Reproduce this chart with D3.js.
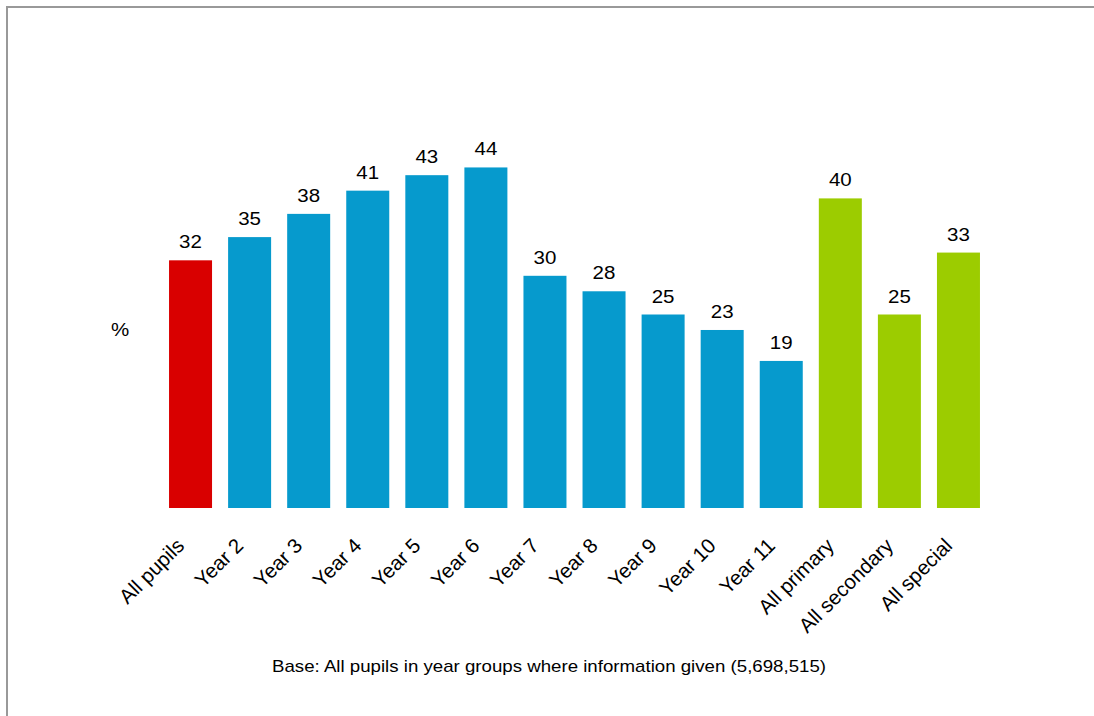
<!DOCTYPE html>
<html>
<head>
<meta charset="utf-8">
<script src="https://d3js.org/d3.v7.min.js"></script>
<style>
  html, body { margin: 0; padding: 0; background: #fff; }
  svg { display: block; }
  text { font-family: "Liberation Sans", Arial, sans-serif; fill: #000; }
</style>
</head>
<body>
<script>
const categories = ["All pupils", "Year 2", "Year 3", "Year 4", "Year 5", "Year 6", "Year 7", "Year 8", "Year 9", "Year 10", "Year 11", "All primary", "All secondary", "All special"];
const values = [32, 35, 38, 41, 43, 44, 30, 28, 25, 23, 19, 40, 25, 33];
const groups = ["total", "year", "year", "year", "year", "year", "year", "year", "year", "year", "year", "phase", "phase", "phase"];
const groupColors = { total: "#D90000", year: "#069ACD", phase: "#9CCC00" };
const yAxisLabel = "%";
const footnote = "Base: All pupils in year groups where information given (5,698,515)";

const W = 1094, H = 716;
const svg = d3.select("body").append("svg").attr("width", W).attr("height", H);

// frame
svg.append("rect").attr("x", 7).attr("y", 7).attr("width", W + 20).attr("height", H + 20)
  .attr("fill", "none").attr("stroke", "#999").attr("stroke-width", 2);

const x = d3.scaleBand().domain(categories).range([161, 988]).paddingInner(0.272).paddingOuter(0.136);
const y = d3.scaleLinear().domain([0, 50]).range([508, 508 - 387]);

const data = categories.map((c, i) => ({ c, v: values[i], g: groups[i] }));

svg.selectAll("rect.bar").data(data).join("rect").attr("class", "bar")
  .attr("x", d => x(d.c)).attr("width", x.bandwidth())
  .attr("y", d => y(d.v)).attr("height", d => y(0) - y(d.v))
  .attr("fill", d => groupColors[d.g]);

svg.selectAll("text.val").data(data).join("text").attr("class", "val")
  .attr("transform", d => `translate(${x(d.c) + x.bandwidth() / 2},${y(d.v) - 12}) scale(1.08,1)`)
  .attr("text-anchor", "middle").style("font-size", "19px").text(d => d.v);

// category axis labels, rotated
const axisG = svg.append("g");
data.forEach(d => {
  const cx = x(d.c) + x.bandwidth() / 2 - 5;
  const cy = 547;
  axisG.append("text").attr("transform", `translate(${cx},${cy}) rotate(-45)`)
    .attr("text-anchor", "end").style("font-size", "20.5px").text(d.c);
});

svg.append("text").attr("transform", "translate(120,336) scale(1.08,1)").attr("text-anchor", "middle")
  .style("font-size", "19px").text(yAxisLabel);

svg.append("text").attr("x", 549).attr("y", 672).attr("text-anchor", "middle")
  .style("font-size", "17px").attr("textLength", 554).attr("lengthAdjust", "spacingAndGlyphs").text(footnote);
</script>
</body>
</html>
